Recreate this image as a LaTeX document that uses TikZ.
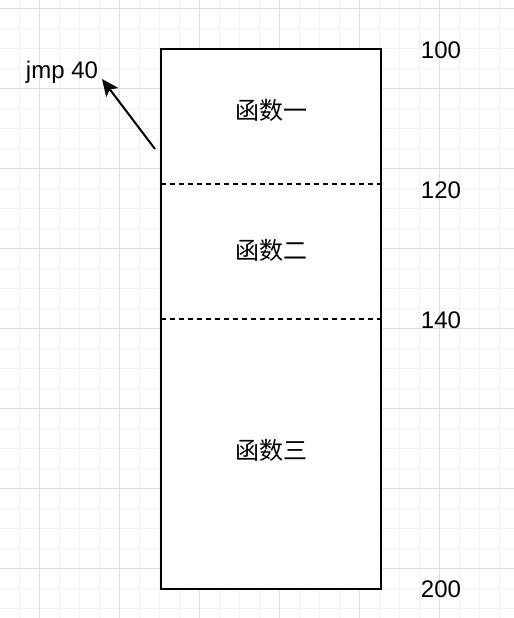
\documentclass[tikz,border=0pt]{standalone}
\usepackage{fontspec}
\setmainfont{Liberation Sans}
\newfontfamily\cjk{Noto Sans CJK SC}
\usetikzlibrary{arrows.meta}

\begin{document}
\begin{tikzpicture}
  [x=0.5pt,y=-0.5pt,font=\fontsize{12}{14}\selectfont,
   minor/.style={draw=black!5,line width=0.5pt},
   major/.style={draw=black!13,line width=0.5pt},
   fn/.style={font=\fontsize{12}{14}\selectfont\cjk},
   cut/.style={dash pattern=on 2.5pt off 2pt,line width=1pt}]
  \useasboundingbox[fill=white] (0,0) rectangle (514,618);
  % grid
  \foreach \x in {20,40,...,500}
    \draw[minor] (\x,0) -- (\x,618);
  \foreach \y in {8,28,...,608}
    \draw[minor] (0,\y) -- (514,\y);
  \foreach \x in {40,120,...,440}
    \draw[major] (\x,0) -- (\x,618);
  \foreach \y in {8,88,...,568}
    \draw[major] (0,\y) -- (514,\y);
  % memory block
  \node[draw,fill=white,line width=1pt,inner sep=0pt,minimum width=110pt,minimum height=270pt] (stack) at (271,319) {};
  \coordinate (cut1w) at (161,184);
  \coordinate (cut1e) at (381,184);
  \coordinate (cut2w) at (161,319);
  \coordinate (cut2e) at (381,319);
  \foreach \from/\to in {cut1w/cut1e,cut2w/cut2e}
    \draw[cut] (\from) -- (\to);
  \node[fn] (f1) at (271,110) {函数一};
  \node[fn] (f2) at (271,250) {函数二};
  \node[fn] (f3) at (271,450) {函数三};
  % addresses
  \node (a100) at (441,50) {100};
  \node (a120) at (441,190) {120};
  \node (a140) at (441,320) {140};
  \node (a200) at (441,589) {200};
  % jump
  \node (jmp) at (62,72) {jmp 40};
  \coordinate (tail) at (155,149);
  \coordinate (tip) at (102,79);
  \draw[-{Stealth[length=8.5pt,width=7.5pt,inset=2pt]},line width=1pt] (tail) -- (tip);
\end{tikzpicture}
\end{document}
